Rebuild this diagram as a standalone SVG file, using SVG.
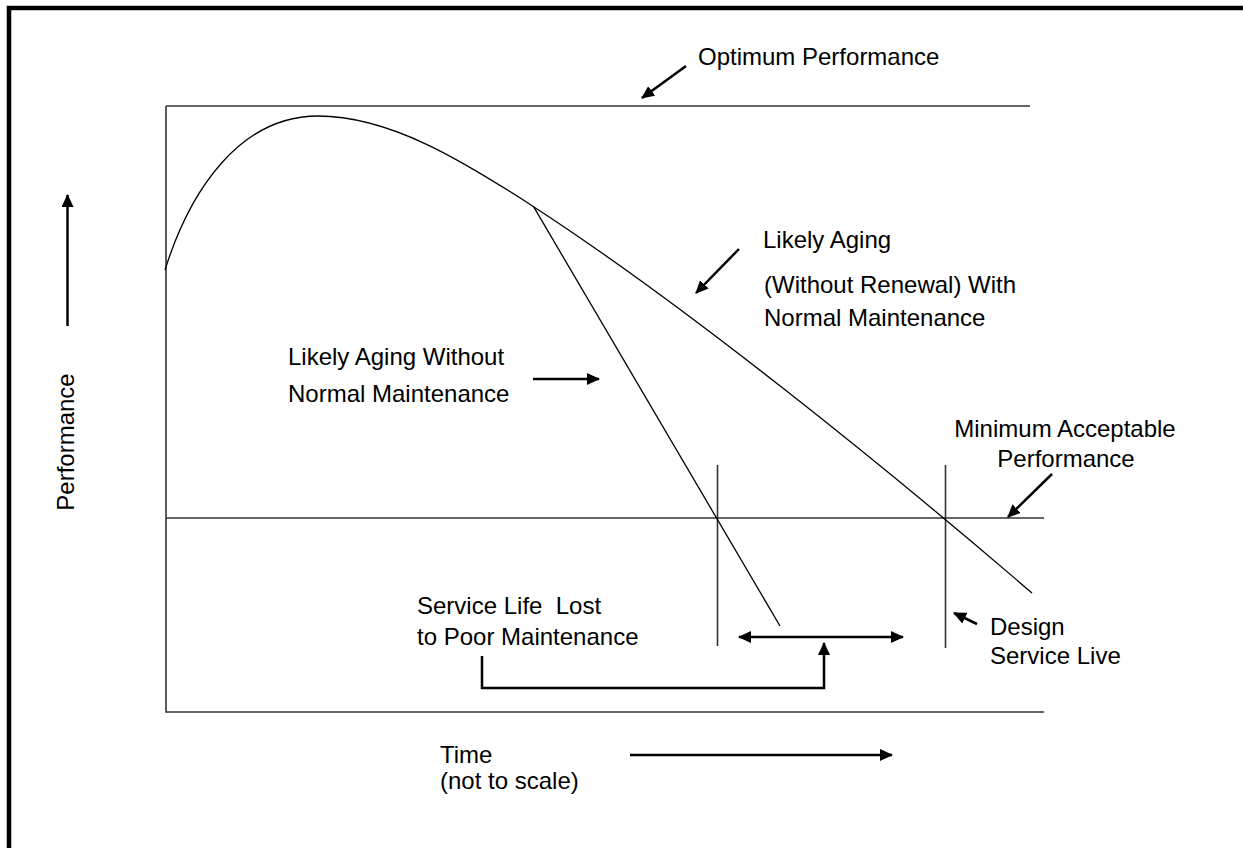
<svg xmlns="http://www.w3.org/2000/svg" width="1243" height="848" viewBox="0 0 1243 848">
<style>
  .lbl { font-family: "Liberation Sans", Arial, sans-serif; font-size: 24px; fill: #000; }
  .frame { stroke: #333; stroke-width: 1.6; fill: none; }
  .curve { stroke: #000; stroke-width: 1.3; fill: none; }
  .arr { stroke: #000; stroke-width: 2.5; fill: none; }
</style>
<defs>
  <marker id="ah" markerUnits="userSpaceOnUse" markerWidth="14" markerHeight="12" refX="12" refY="6" orient="auto-start-reverse">
    <path d="M0,0 L13,6 L0,12 Z" fill="#000"/>
  </marker>
</defs>
<rect width="1243" height="848" fill="#fff"/>
<path id="border" d="M9,848 V8 H1243" stroke="#000" stroke-width="4.5" fill="none"/>

<g id="chart">
  <path class="frame" d="M166,106 V712 H1044"/>
  <line class="frame" x1="166" y1="106" x2="1030" y2="106"/>
  <line class="frame" x1="166" y1="518" x2="1044" y2="518"/>
  <line class="frame" x1="717.5" y1="465" x2="717.5" y2="646"/>
  <line class="frame" x1="945.5" y1="465" x2="945.5" y2="648"/>
  <path class="curve" d="M165,270 C190,190 240,116 318,116 C390,116 463.6,161.2 533.6,206.7 C683.6,304.2 882,464 1032,593"/>
  <line class="curve" x1="533.6" y1="206.7" x2="780" y2="626"/>
</g>

<g id="connectors">
  <line class="arr" x1="686" y1="66" x2="642" y2="98" marker-end="url(#ah)"/>
  <line class="arr" x1="739" y1="249" x2="696" y2="293" marker-end="url(#ah)"/>
  <line class="arr" x1="533" y1="379" x2="599" y2="379" marker-end="url(#ah)"/>
  <line class="arr" x1="1052" y1="474" x2="1008" y2="517" marker-end="url(#ah)"/>
  <line class="arr" x1="977" y1="624" x2="954" y2="613" marker-end="url(#ah)"/>
  <line class="arr" x1="67.5" y1="326" x2="67.5" y2="195" marker-end="url(#ah)"/>
  <line class="arr" x1="630" y1="755" x2="892" y2="755" marker-end="url(#ah)"/>
  <line class="arr" x1="739" y1="637" x2="903" y2="637" marker-start="url(#ah)" marker-end="url(#ah)"/>
  <path class="arr" d="M482,656 V688 H824 V643" marker-end="url(#ah)"/>
</g>

<g id="label-optimum"><text class="lbl" x="698" y="65">Optimum Performance</text></g>
<g id="label-likely-aging">
  <text class="lbl" x="763" y="248">Likely Aging</text>
  <text class="lbl" x="764" y="293">(Without Renewal) With</text>
  <text class="lbl" x="764" y="326">Normal Maintenance</text>
</g>
<g id="label-without-maint">
  <text class="lbl" x="288" y="365">Likely Aging Without</text>
  <text class="lbl" x="288" y="402">Normal Maintenance</text>
</g>
<g id="label-performance"><text class="lbl" x="0" y="0" text-anchor="middle" transform="translate(74,442) rotate(-90)">Performance</text></g>
<g id="label-minimum">
  <text class="lbl" x="1065" y="437" text-anchor="middle">Minimum Acceptable</text>
  <text class="lbl" x="1066" y="467" text-anchor="middle">Performance</text>
</g>
<g id="label-service-lost">
  <text class="lbl" x="417" y="614" xml:space="preserve">Service Life  Lost</text>
  <text class="lbl" x="417" y="645">to Poor Maintenance</text>
</g>
<g id="label-design">
  <text class="lbl" x="990" y="635">Design</text>
  <text class="lbl" x="990" y="664">Service Live</text>
</g>
<g id="label-time">
  <text class="lbl" x="440" y="763">Time</text>
  <text class="lbl" x="440" y="789">(not to scale)</text>
</g>
</svg>
